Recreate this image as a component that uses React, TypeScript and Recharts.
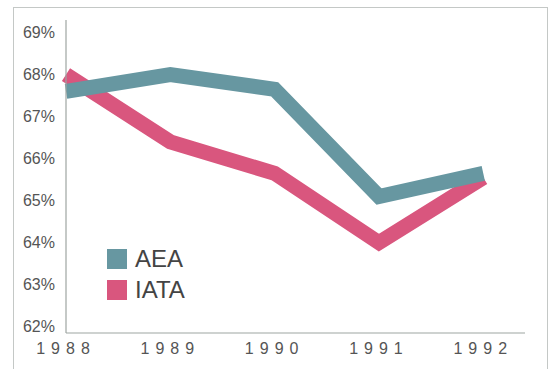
import React from 'react';
import { LineChart, Line, XAxis, YAxis } from 'recharts';

const years = [1988, 1989, 1990, 1991, 1992];
const aea = [67.6, 68.0, 67.65, 65.1, 65.65];
const iata = [68.0, 66.4, 65.65, 64.0, 65.55];
const yTicks = [62, 63, 64, 65, 66, 67, 68, 69];

const SERIES = [
  { key: 'AEA', values: aea, color: '#6797a1' },
  { key: 'IATA', values: iata, color: '#d9567e' },
];

const data = years.map((year, i) => ({
  year,
  AEA: aea[i],
  IATA: iata[i],
}));

const FONT = 'Liberation Sans, Arial, sans-serif';

const LegendBox = () => (
  <div style={{ position: 'absolute', left: 107, top: 243, fontFamily: FONT }}>
    {SERIES.map((s) => (
      <div key={s.key} style={{ display: 'flex', alignItems: 'center', height: 31 }}>
        <span style={{ width: 20, height: 20, background: s.color, display: 'inline-block', marginRight: 8 }} />
        <span style={{ fontSize: 24, color: '#444', lineHeight: '24px' }}>{s.key}</span>
      </div>
    ))}
  </div>
);

export default function App() {
  // IATA goes down first so the AEA band sits on top where they cross
  const drawOrder = [...SERIES].reverse();
  return (
    <div style={{ position: 'absolute', left: 0, top: 0, width: 552, height: 369, background: '#fff', overflow: 'hidden' }}>
      <div
        style={{
          position: 'absolute',
          left: 13,
          top: 7,
          width: 535,
          height: 380,
          border: '1px solid #c4c8c6',
          boxSizing: 'border-box',
        }}
      />
      <div style={{ position: 'absolute', left: 0, top: 0 }}>
        <LineChart width={552} height={369} data={data} margin={{ top: 20, right: 27, bottom: 0, left: 0 }}>
          <XAxis
            dataKey="year"
            type="number"
            domain={[1988, 1992.4]}
            ticks={years}
            tickLine={false}
            axisLine={{ stroke: '#9ea5a2', strokeWidth: 1.2 }}
            height={36}
            tickMargin={4}
            tick={{ fill: '#555', fontSize: 16, letterSpacing: 6, fontFamily: FONT }}
          />
          <YAxis
            type="number"
            domain={[61.85, 69.3]}
            ticks={yTicks}
            tickFormatter={(v) => `${v}%`}
            tickLine={false}
            axisLine={{ stroke: '#9ea5a2', strokeWidth: 1.2 }}
            width={66}
            tickMargin={5}
            tick={{ fill: '#555', fontSize: 16, fontFamily: FONT }}
          />
          {drawOrder.map((s) => (
            <Line
              key={s.key}
              dataKey={s.key}
              stroke={s.color}
              strokeWidth={15}
              strokeLinecap="butt"
              strokeLinejoin="miter"
              dot={false}
              activeDot={false}
              isAnimationActive={false}
            />
          ))}
        </LineChart>
      </div>
      <LegendBox />
    </div>
  );
}
